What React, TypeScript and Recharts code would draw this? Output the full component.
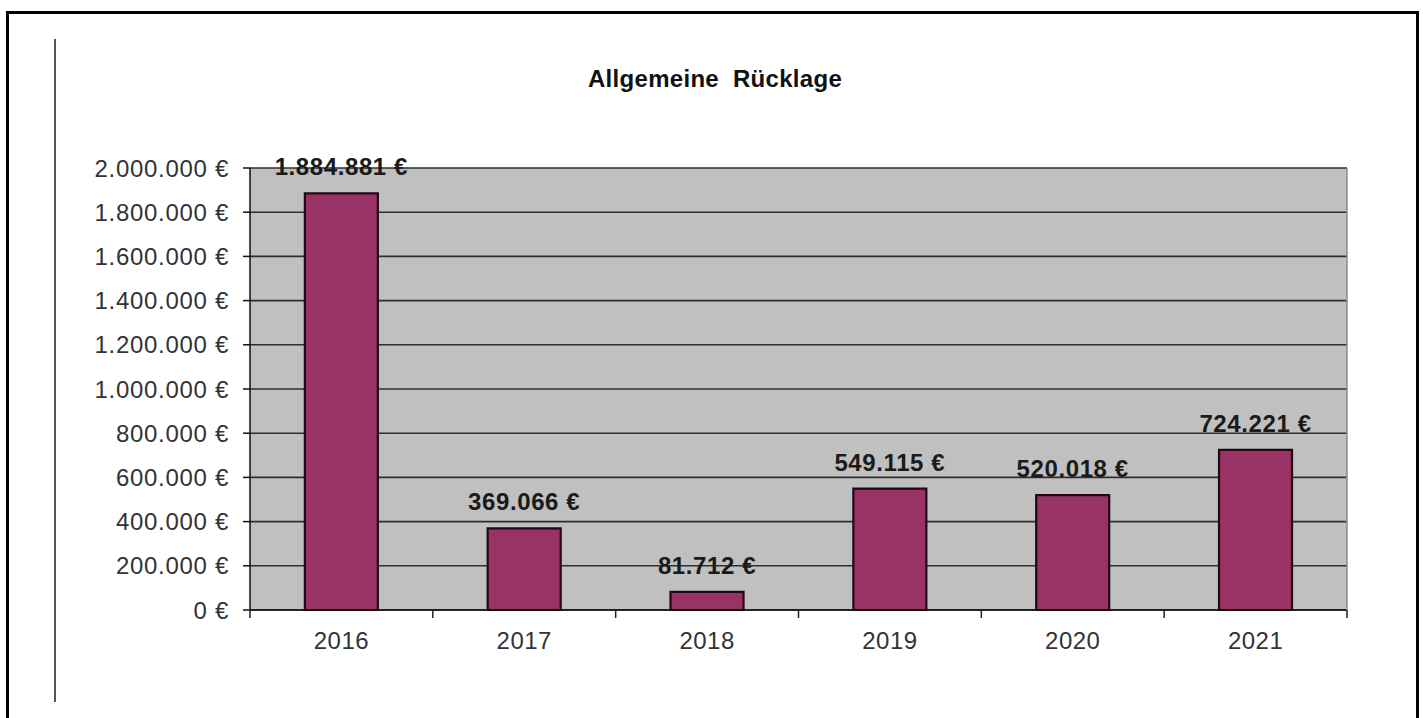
import React from 'react';
import { BarChart, Bar, XAxis, YAxis, CartesianGrid, LabelList } from 'recharts';

const years: string[] = ['2016', '2017', '2018', '2019', '2020', '2021'];
const ruecklage: number[] = [1884881, 369066, 81712, 549115, 520018, 724221];
const yTicks: number[] = [0, 200000, 400000, 600000, 800000, 1000000, 1200000, 1400000, 1600000, 1800000, 2000000];
const chartTitle = 'Allgemeine  Rücklage';

const data = years.map((year, i) => ({ year, value: ruecklage[i] }));

const FONT = '"Liberation Sans", Arial, sans-serif';

const fmt = (v: any): string =>
  String(Math.round(Number(v))).replace(/\B(?=(\d{3})+(?!\d))/g, '.') + ' €';

const XTick = (props: any) => {
  const { x, y, payload, index, visibleTicksCount } = props;
  const off = payload && typeof payload.offset === 'number' ? payload.offset : 0;
  return (
    <g>
      <line x1={x - off} x2={x - off} y1={y} y2={y + 8} stroke="#222" strokeWidth={1.5} />
      {index === visibleTicksCount - 1 && (
        <line x1={x + off} x2={x + off} y1={y} y2={y + 8} stroke="#222" strokeWidth={1.5} />
      )}
      <text x={x} y={y + 39} textAnchor="middle" fontSize={24} fill="#333" fontFamily={FONT} letterSpacing={0.5}>
        {payload.value}
      </text>
    </g>
  );
};

const ValueLabel = (props: any) => {
  const { x, y, width, value } = props;
  return (
    <text
      x={Number(x) + Number(width) / 2}
      y={Number(y) - 18}
      textAnchor="middle"
      fontSize={24}
      fontWeight="bold"
      fill="#1a1a1a"
      fontFamily={FONT}
      letterSpacing={0.6}
    >
      {fmt(value)}
    </text>
  );
};

export default function App() {
  return (
    <div style={{ position: 'absolute', left: 0, top: 0, width: 1423, height: 718, overflow: 'hidden', background: '#fff', fontFamily: FONT }}>
      <div style={{ position: 'absolute', left: 6, top: 11, width: 1413, height: 730, border: '3px solid #000', boxSizing: 'border-box' }} />
      <div style={{ position: 'absolute', left: 54, top: 39, width: 2, height: 663, background: '#555' }} />
      <div style={{ position: 'absolute', left: 0, top: 67, width: 1430, textAlign: 'center', fontSize: 24, lineHeight: '24px', fontWeight: 'bold', color: '#111', whiteSpace: 'pre', letterSpacing: 0.3 }}>
        {chartTitle}
      </div>
      <div style={{ position: 'absolute', left: 0, top: 0 }}>
        <BarChart
          width={1423}
          height={718}
          data={data}
          margin={{ top: 168, right: 75, bottom: 48, left: 0 }}
          barCategoryGap="30%"
        >
          <CartesianGrid
            yAxisId="left"
            vertical={false}
            stroke="#2e2e2e"
            strokeWidth={1.6}
            fill="#c0c0c0"
            fillOpacity={1}
          />
          <XAxis
            dataKey="year"
            yAxisId="left"
            height={60}
            interval={0}
            tickLine={false}
            tickSize={0}
            tickMargin={0}
            axisLine={{ stroke: '#111', strokeWidth: 1.5 }}
            tick={<XTick />}
          />
          <YAxis
            yAxisId="left"
            width={250}
            domain={[0, 2000000]}
            ticks={yTicks}
            interval={0}
            tickSize={7}
            tickMargin={14}
            tickFormatter={fmt}
            axisLine={{ stroke: '#111', strokeWidth: 1.5 }}
            tickLine={{ stroke: '#111', strokeWidth: 1.5 }}
            tick={{ fontSize: 24, fill: '#333', fontFamily: FONT, letterSpacing: 0.7 }}
          />
          <YAxis
            yAxisId="right"
            orientation="right"
            width={1}
            domain={[0, 2000000]}
            tick={false}
            tickLine={false}
            axisLine={{ stroke: '#8c8c8c', strokeWidth: 1.5 }}
          />
          <Bar
            dataKey="value"
            yAxisId="left"
            fill="#993366"
            stroke="#220814"
            strokeWidth={2.2}
            isAnimationActive={false}
          >
            <LabelList dataKey="value" content={<ValueLabel />} />
          </Bar>
        </BarChart>
      </div>
    </div>
  );
}
